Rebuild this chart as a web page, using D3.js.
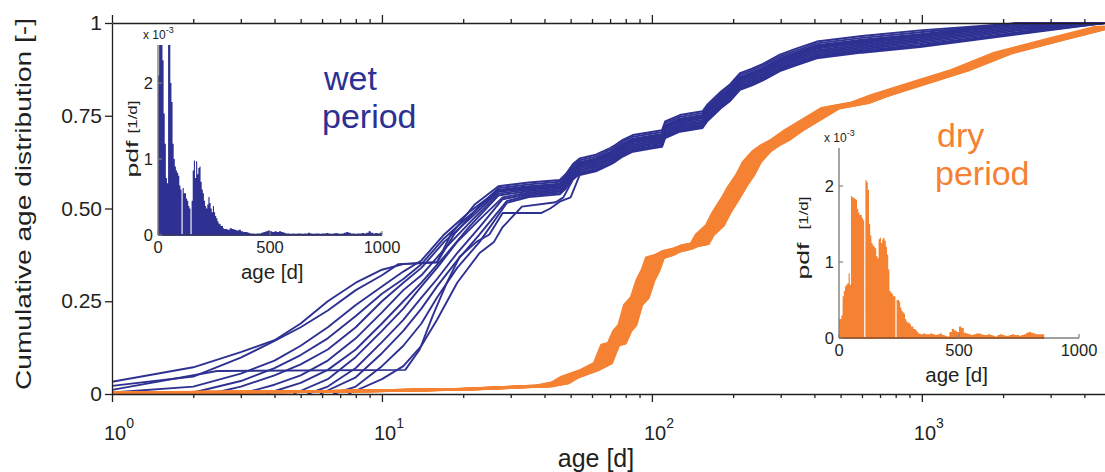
<!DOCTYPE html>
<html>
<head>
<meta charset="utf-8">
<script src="https://cdn.jsdelivr.net/npm/d3@7"></script>
<style>
  body { margin: 0; background: #fff; }
  svg { font-family: "Liberation Sans", Arial, Helvetica, sans-serif; }
</style>
</head>
<body>
<svg id="chart" width="1105" height="472"></svg>
<script>
// ---- data ----
const wetColor = "#2e3192";
const dryColor = "#f58233";

const yTicks = [0, 0.25, 0.5, 0.75, 1];
const yTickLabels = ["0", "0.25", "0.50", "0.75", "1"];
const xDecades = [1, 10, 100, 1000];
const xDecadeExp = ["0", "1", "2", "3"];

// wet period: young part of every daily curve [age, F], dv = offset inside the shared band
const wetCurves = [
  { dv: 0.045, head: [[1,0.033],[2,0.072],[3,0.113],[4,0.145],[5,0.19],[6.3,0.25],[8,0.30],[10,0.335],[12,0.35],[16,0.355],[18,0.43],[22,0.51],[27,0.56]] },
  { dv: 0.040, head: [[1,0.022],[2,0.047],[3,0.098],[4,0.143],[5,0.18],[6.3,0.225],[8,0.28],[10,0.32],[11.5,0.35],[16,0.355],[18.5,0.43],[22.5,0.5],[27,0.555]] },
  { dv: 0.035, head: [[1,0.004],[2,0.02],[3,0.055],[4,0.09],[5,0.13],[6.3,0.18],[8,0.24],[10,0.29],[12,0.33],[14,0.36],[17,0.43],[21,0.49],[27,0.55]] },
  { dv: 0.032, head: [[1.9,0],[3,0.035],[4,0.07],[5,0.105],[6.3,0.15],[8,0.21],[10,0.27],[12,0.31],[14,0.35],[17,0.42],[21,0.48],[27,0.548]] },
  { dv: 0.029, head: [[2.3,0],[3,0.02],[4,0.05],[5,0.08],[6.3,0.12],[8,0.18],[10,0.25],[12,0.30],[14,0.34],[17,0.41],[21,0.47],[27,0.545]] },
  { dv: 0.026, head: [[3,0],[4,0.025],[5,0.05],[6.3,0.09],[8,0.15],[10,0.22],[12,0.28],[14,0.32],[17,0.39],[21,0.46],[27,0.54]] },
  { dv: 0.022, head: [[3.7,0],[5,0.03],[6.3,0.065],[8,0.12],[10,0.19],[12,0.25],[14,0.30],[17,0.37],[21,0.45],[27,0.535]] },
  { dv: 0.018, head: [[4.7,0],[6.3,0.04],[8,0.10],[10,0.17],[12,0.23],[14,0.29],[16,0.34],[19,0.41],[23,0.47],[28,0.53]] },
  { dv: 0.014, head: [[5.3,0],[6.3,0.02],[8,0.07],[10,0.14],[12,0.20],[14,0.26],[16,0.31],[19,0.38],[23,0.45],[28,0.525]] },
  { dv: 0.010, head: [[5.9,0],[8,0.045],[10,0.11],[12,0.17],[14,0.23],[16,0.29],[19,0.36],[23,0.43],[29,0.52]] },
  { dv: 0.006, head: [[6.6,0],[8,0.02],[10,0.075],[12,0.13],[14,0.19],[16,0.26],[19,0.34],[23,0.41],[29,0.515]] },
  { dv: 0.000, head: [[1,0.011],[2.45,0.062],[12.2,0.065],[13.8,0.12],[15.4,0.21],[17.4,0.30],[19.4,0.37],[22.4,0.41],[25,0.43],[28,0.488],[39,0.488],[42,0.50],[46,0.52],[50,0.53]] },
  { dv: 0.003, head: [[7.5,0],[10,0.04],[12,0.075],[14,0.13],[16,0.2],[19,0.3],[23,0.38],[26,0.41],[28,0.45],[33,0.505],[44,0.517],[47,0.53]] }
];

// wet period: lower edge of the common band [age, F]
const wetTail = [[27,0.515],[35,0.525],[45.6,0.532],[48,0.548],[51,0.575],[54,0.59],[62,0.6],[70,0.618],[72,0.623],[78,0.64],[85,0.653],[97,0.66],[109,0.666],[112,0.69],[127,0.707],[154,0.717],[160,0.734],[180,0.77],[195,0.79],[212,0.82],[235,0.832],[258,0.845],[298,0.87],[340,0.885],[408,0.905],[600,0.92],[984,0.935],[2306,0.97],[4770,1.0]];

// dry period: centre curve [age, F] and the age factors of the bundled daily curves
const dryCurve = [[1,0.004],[5,0.006],[10,0.009],[20,0.013],[30,0.018],[40,0.022],[45.6,0.03],[49.7,0.046],[58.8,0.065],[65.7,0.083],[69.9,0.132],[74,0.137],[77.5,0.17],[81,0.186],[85,0.24],[90,0.26],[94.5,0.307],[98.7,0.334],[102.4,0.367],[111,0.375],[118,0.385],[130,0.392],[138,0.4],[150,0.405],[157,0.43],[171,0.455],[181,0.49],[196,0.53],[207,0.56],[221,0.59],[234,0.625],[255,0.655],[273,0.67],[298,0.685],[333,0.71],[400,0.745],[456,0.77],[589,0.785],[700,0.805],[880,0.828],[1383,0.873],[1995,0.919],[3055,0.954],[4770,0.99]];
const dryAgeFactor = [0.93, 0.948, 0.96, 0.978, 0.99, 1.0, 1.012, 1.03, 1.041, 1.058, 1.072, 1.08];

// inset pdfs (x 1e-3 per day): 5-day bins from 0, then 10-day bins
const wetPdfFine = [2.1,2.5,2.5,2.5,2.3,1.6,1.2,0.75,0.68,2.5, 2.5,2.0,1.75,1.2,1.0,0.9,0.85,0.82,0.78,0.65, 0.6,0,0.62,0.55,0.55,0.48,0.45,0.38,0.35,0, 0.45,0.85,0.98,0.75,0.97,0.8,0.88,0.9,0.7,0.6, 0.55,0.45,0.38,0.35,0.4,0.5,0.42,0.35,0.3,0.38, 0.3,0.25,0.22,0.18,0.15,0.14,0.12,0.12,0.09,0.08];
const wetPdfCoarse = [0.08,0.07,0.09,0.08,0.07,0.06,0.07,0.05,0.04,0.04, 0.03,0.02,0.02,0.015,0.02,0.02,0.03,0.04,0.05,0.06, 0.05,0.04,0.05,0.04,0.05,0.04,0.03,0.02,0.02,0.015, 0.02,0.015,0.02,0.02,0.015,0.02,0.02,0.03,0.02,0.015, 0.02,0.02,0.015,0.02,0.02,0.025,0.02,0.015,0.02,0.025, 0.02,0.015,0.02,0.03,0.04,0.03,0.02,0.02,0.015,0.02, 0.02,0.025,0.02,0.03,0.05,0.03,0.02,0.025,0.02,0.03];
const dryPdfFine = [0.25,0.25,0.3,0.55,0.62,0.68,0.7,0.72,0.85,0.7, 1.87,1.85,1.85,1.83,1.82,1.7,1.65,1.62,1.62,1.58, 1.55,0,2.08,2.05,1.95,1.5,1.35,1.25,1.22,1.2, 1.18,1.08,1.05,1.3,1.32,1.25,1.3,1.32,1.28,1.2, 1.1,0.9,0.62,0.6,0.58,0.55,0.55,0,0.5,0.5, 0.48,0.4,0.36,0.34,0.32,0.25,0.22,0.2,0.2,0.18, 0.15,0.15,0.12,0.12,0.1,0.08,0.06,0.06,0.05,0.05];
const dryPdfCoarse = [0.06,0.05,0.05,0.06,0.05,0.04,0.05,0.06,0.04,0.03, 0.02,0.08,0.12,0.1,0.08,0.15,0.13,0.07,0.06,0.05, 0.04,0.05,0.06,0.06,0.05,0.04,0.04,0.05,0.04,0.03, 0.02,0.04,0.05,0.04,0.03,0.03,0.04,0.05,0.04,0.04, 0.03,0.04,0.05,0.07,0.08,0.07,0.06,0.05,0.05,0.05, 0.05];
const insetTicks = [0, 500, 1000];
const insetYTicks = [0, 1, 2];

// ---- chart ----
const svg = d3.select("#chart");
const axisColor = "#231f20";

const x = d3.scaleLog().domain([1, 4770]).range([112, 1105]);
const y = d3.scaleLinear().domain([0, 1]).range([394, 23]);

svg.append("defs").append("clipPath").attr("id", "plotClip")
  .append("rect").attr("x", 112).attr("y", 15).attr("width", 993).attr("height", 381);

let allTicks = [];
xDecades.forEach(dec => {
  for (let m = 1; m < 10; m++) {
    if (m * dec <= 4770) allTicks.push(m * dec);
  }
});

let line = d3.line().x(d => x(d[0])).y(d => y(d[1]));

// wet curves
let plot = svg.append("g").attr("clip-path", "url(#plotClip)");
wetCurves.forEach(c => {
  let last = c.head[c.head.length - 1][0];
  let pts = c.head.concat(
    wetTail.filter(p => p[0] > last + 2).map(p => [p[0], Math.min(1, p[1] + c.dv)])
  );
  plot.append("path")
    .attr("d", line(pts))
    .attr("fill", "none")
    .attr("stroke", wetColor)
    .attr("stroke-width", 1.9)
    .attr("stroke-linejoin", "round");
});

// dry curves
dryAgeFactor.forEach(f => {
  plot.append("path")
    .attr("d", line(dryCurve.map(p => [p[0] * f, p[1]])))
    .attr("fill", "none")
    .attr("stroke", dryColor)
    .attr("stroke-width", 2.6)
    .attr("stroke-linejoin", "round");
});

// axes
function styleAxis(g) {
  g.selectAll("path, line").attr("stroke", axisColor).attr("stroke-width", 1.3);
}

let bottomAxis = svg.append("g").attr("transform", "translate(0,394)")
  .call(d3.axisBottom(x).tickValues(allTicks).tickSize(4).tickSizeOuter(0).tickFormat(""));
bottomAxis.selectAll(".tick line").filter(d => xDecades.includes(d)).attr("y2", 8);
styleAxis(bottomAxis);

let topAxis = svg.append("g").attr("transform", "translate(0,23)")
  .call(d3.axisTop(x).tickValues(allTicks).tickSize(4).tickSizeOuter(0).tickFormat(""));
topAxis.selectAll(".tick line").filter(d => xDecades.includes(d)).attr("y2", -8);
styleAxis(topAxis);

let leftAxis = svg.append("g").attr("transform", "translate(112,0)")
  .call(d3.axisLeft(y).tickValues(yTicks).tickSize(7).tickSizeOuter(0).tickPadding(3)
    .tickFormat((d, i) => yTickLabels[i]));
styleAxis(leftAxis);
leftAxis.selectAll("text").attr("font-size", 21).attr("fill", axisColor)
  .attr("font-family", "'Liberation Sans', Arial, sans-serif");

// decade labels
xDecades.forEach((d, i) => {
  let t = svg.append("text")
    .attr("x", x(d) - 8).attr("y", 440)
    .attr("font-size", 20).attr("fill", axisColor);
  t.append("tspan").text("10");
  t.append("tspan").attr("dy", -12).attr("font-size", 14).text(xDecadeExp[i]);
});

svg.append("text")
  .attr("x", 596).attr("y", 467)
  .attr("text-anchor", "middle")
  .attr("font-size", 25).attr("fill", axisColor)
  .text("age [d]");

svg.append("text")
  .attr("transform", "translate(31,204) rotate(-90)")
  .attr("text-anchor", "middle")
  .attr("font-size", 22).attr("fill", axisColor)
  .attr("textLength", 372).attr("lengthAdjust", "spacingAndGlyphs")
  .text("Cumulative age distribution [-]");

// period labels
function periodLabel(x0, y0, word, color) {
  svg.append("text").attr("x", x0).attr("y", y0)
    .attr("font-size", 34).attr("fill", color).text(word);
  svg.append("text").attr("x", x0 - 2).attr("y", y0 + 38)
    .attr("font-size", 34).attr("fill", color).text("period");
}
periodLabel(324, 90, "wet", wetColor);
periodLabel(937, 147, "dry", dryColor);

// insets
function drawInset(cfg) {
  let ix = d3.scaleLinear().domain([0, 1000]).range(cfg.xr);
  let iy = d3.scaleLinear().domain([0, 2.5]).range(cfg.yr);
  let g = svg.append("g");

  let pts = cfg.fine.map((v, i) => [i * 5, v])
    .concat(cfg.coarse.map((v, i) => [cfg.coarseStart + i * 10, v]));
  pts.push([cfg.end, pts[pts.length - 1][1]]);

  let area = d3.area()
    .x(d => ix(d[0]))
    .y0(iy(0))
    .y1(d => iy(Math.min(d[1], 2.5)))
    .curve(d3.curveStepAfter);

  g.append("path").attr("d", area(pts)).attr("fill", cfg.color).attr("stroke", "none");

  let gray = "#808080";
  g.append("line").attr("x1", ix(0)).attr("x2", ix(1000))
    .attr("y1", iy(0)).attr("y2", iy(0)).attr("stroke", gray).attr("stroke-width", 1.4);
  g.append("line").attr("x1", ix(0)).attr("x2", ix(0))
    .attr("y1", iy(0)).attr("y2", iy(2.5)).attr("stroke", gray).attr("stroke-width", 1.4);
  g.append("line").attr("x1", ix(0)).attr("x2", ix(cfg.end))
    .attr("y1", iy(0)).attr("y2", iy(0)).attr("stroke", cfg.baseColor).attr("stroke-width", 1.4);

  insetTicks.forEach(t => {
    g.append("line").attr("x1", ix(t)).attr("x2", ix(t))
      .attr("y1", iy(0)).attr("y2", iy(0) - 4).attr("stroke", gray).attr("stroke-width", 1.2);
    g.append("text").attr("x", ix(t)).attr("y", iy(0) + 18)
      .attr("text-anchor", "middle").attr("font-size", 16.5).attr("fill", axisColor).text(t);
  });
  insetYTicks.forEach(t => {
    g.append("line").attr("x1", ix(0)).attr("x2", ix(0) + 4)
      .attr("y1", iy(t)).attr("y2", iy(t)).attr("stroke", gray).attr("stroke-width", 1.2);
    g.append("text").attr("x", ix(0) - 5).attr("y", iy(t) + 6)
      .attr("text-anchor", "end").attr("font-size", 16.5).attr("fill", axisColor).text(t);
  });

  let sc = g.append("text").attr("x", ix(0) - 15).attr("y", iy(2.5) - 6)
    .attr("font-size", 12).attr("fill", axisColor);
  sc.append("tspan").text("x 10");
  sc.append("tspan").attr("dy", -6).attr("font-size", 9).text("-3");

  g.append("text").attr("x", ix(cfg.labelAt)).attr("y", iy(0) + 44)
    .attr("text-anchor", "middle").attr("font-size", 20.5).attr("fill", axisColor)
    .text("age [d]");

  g.append("text")
    .attr("transform", `translate(${cfg.pdfX},${cfg.pdfY}) rotate(-90)`)
    .attr("text-anchor", "middle").attr("font-size", 16).attr("fill", axisColor)
    .attr("textLength", 37).attr("lengthAdjust", "spacingAndGlyphs")
    .text("pdf");
  g.append("text")
    .attr("transform", `translate(${cfg.pdfX - 1},${cfg.unitY}) rotate(-90)`)
    .attr("text-anchor", "middle").attr("font-size", 13).attr("fill", axisColor)
    .attr("textLength", 33).attr("lengthAdjust", "spacingAndGlyphs")
    .text("[1/d]");
}

drawInset({
  xr: [158, 382], yr: [235, 45],
  fine: wetPdfFine, coarse: wetPdfCoarse, coarseStart: 300, end: 1000,
  color: wetColor, baseColor: "#1f2266", labelAt: 510,
  pdfX: 138, pdfY: 159, unitY: 117
});

drawInset({
  xr: [839, 1079], yr: [338, 148],
  fine: dryPdfFine, coarse: dryPdfCoarse, coarseStart: 350, end: 855,
  color: dryColor, baseColor: "#a04e1c", labelAt: 490,
  pdfX: 809, pdfY: 261, unitY: 213
});
</script>
</body>
</html>
